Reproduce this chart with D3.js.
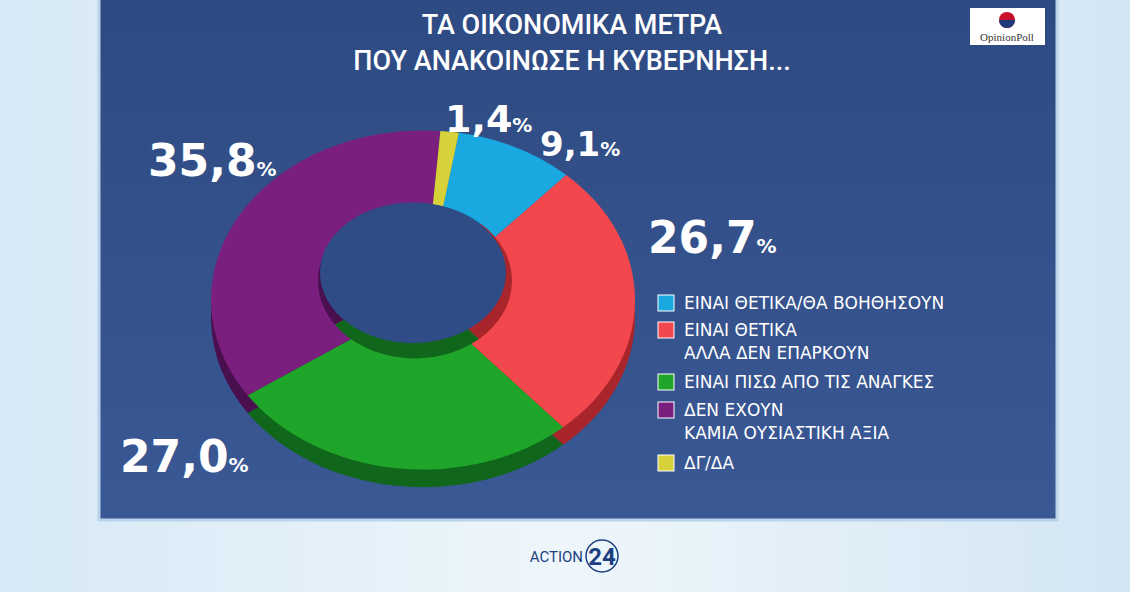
<!DOCTYPE html>
<html><head><meta charset="utf-8">
<script src="https://cdn.jsdelivr.net/npm/d3@7"></script>
<style>body{margin:0;overflow:hidden}svg{display:block}</style>
</head><body><svg id="c" width="1130" height="592"></svg>
<script>
const categories = ["ΕΙΝΑΙ ΘΕΤΙΚΑ/ΘΑ ΒΟΗΘΗΣΟΥΝ", "ΕΙΝΑΙ ΘΕΤΙΚΑ\nΑΛΛΑ ΔΕΝ ΕΠΑΡΚΟΥΝ", "ΕΙΝΑΙ ΠΙΣΩ ΑΠΟ ΤΙΣ ΑΝΑΓΚΕΣ", "ΔΕΝ ΕΧΟΥΝ\nΚΑΜΙΑ ΟΥΣΙΑΣΤΙΚΗ ΑΞΙΑ", "ΔΓ/ΔΑ"];
const values = [9.1, 26.7, 27.0, 35.8, 1.4];
const colors = ["#1aa8e0", "#f2474d", "#1fa62a", "#7a1f7e", "#d8d23a"];
const darkColors = ["#0d6e98", "#a8262b", "#10661a", "#4a0f4e", "#8f8b1e"];
const labelPos = [[540,156],[648,253],[120,472],[148,176],[445,132]];

const svg = d3.select("#c");
const defs = svg.append("defs");
const bg = defs.append("linearGradient").attr("id","bg").attr("x1",0).attr("x2",1);
bg.append("stop").attr("offset",0).attr("stop-color","#d6e9f6");
bg.append("stop").attr("offset",0.5).attr("stop-color","#eef6fb");
bg.append("stop").attr("offset",1).attr("stop-color","#d3e6f4");
svg.append("rect").attr("width",1130).attr("height",592).attr("fill","url(#bg)");

const pg = defs.append("linearGradient").attr("id","pg").attr("x1",0).attr("y1",0).attr("x2",0).attr("y2",1);
pg.append("stop").attr("offset",0).attr("stop-color","#2e4a82");
pg.append("stop").attr("offset",1).attr("stop-color","#3a5894");
svg.append("rect").attr("x",99).attr("y",-4).attr("width",958).attr("height",524)
  .attr("fill","url(#pg)").attr("stroke","#b9d3ea").attr("stroke-width",3);

svg.append("text").attr("x",572).attr("y",34).attr("text-anchor","middle")
  .attr("font-family","Roboto").attr("font-size",27).attr("font-weight",500).attr("fill","#fff")
  .text("ΤΑ ΟΙΚΟΝΟΜΙΚΑ ΜΕΤΡΑ");
svg.append("text").attr("x",572).attr("y",70).attr("text-anchor","middle")
  .attr("font-family","Roboto").attr("font-size",27).attr("font-weight",500).attr("fill","#fff")
  .text("ΠΟΥ ΑΝΑΚΟΙΝΩΣΕ Η ΚΥΒΕΡΝΗΣΗ...");

// logo
svg.append("rect").attr("x",970).attr("y",8).attr("width",75).attr("height",37).attr("fill","#fff");
svg.append("circle").attr("cx",1007).attr("cy",20).attr("r",8).attr("fill","#c8102e");
svg.append("path").attr("d","M999,20 a8,8 0 0,0 16,0z").attr("fill","#1f3a7a");
svg.append("text").attr("x",1007).attr("y",41).attr("text-anchor","middle")
  .attr("font-family","Liberation Serif").attr("font-size",11).attr("fill","#333").text("OpinionPoll");

// donut
const pie = d3.pie().sort(null).value(d=>d).startAngle(0.17).endAngle(0.17+2*Math.PI);
const arcs = pie(values);
const arc = d3.arc().innerRadius(0).outerRadius(212);
const inner = d3.arc().innerRadius(0).outerRadius(97);
const g = svg.append("g").attr("transform","translate(423,300) scale(1,0.8)");
g.append("g").attr("transform","translate(0,22)").selectAll("path").data(arcs).join("path")
  .attr("d",arc).attr("fill",(d,i)=>darkColors[i]);
g.append("g").selectAll("path").data(arcs).join("path")
  .attr("d",arc).attr("fill",(d,i)=>colors[i]);
// hole: inner wall then opening
const hole = g.append("g").attr("transform","translate(-8,-24)");
hole.append("g").selectAll("path").data(arcs).join("path")
  .attr("d",inner).attr("fill",(d,i)=>darkColors[i]);
hole.append("ellipse").attr("cx",-2).attr("cy",-10).attr("rx",93).attr("ry",88).attr("fill","#2f4c86");

// value labels
const lab = svg.append("g").selectAll("text").data(values).join("text")
  .attr("x",(d,i)=>labelPos[i][0]).attr("y",(d,i)=>labelPos[i][1])
  .attr("font-family","DejaVu Sans").attr("font-weight","bold").attr("fill","#fff");
lab.append("tspan").attr("font-size",(d,i)=>i==0?34:i==4?38:44).text(d=>d3.format(".1f")(d).replace(".",","));
lab.append("tspan").attr("font-size",20).text("%");

// legend
const rows = [303,330,382,410,463];
const leg = svg.append("g").selectAll("g").data(categories).join("g")
  .attr("transform",(d,i)=>`translate(658,${rows[i]})`);
leg.append("rect").attr("x",0).attr("y",-8).attr("width",16).attr("height",16)
  .attr("fill",(d,i)=>colors[i]).attr("stroke","#fff").attr("stroke-width",1);
leg.append("text").attr("font-family","DejaVu Sans").attr("font-size",17).attr("font-weight",500).attr("fill","#fff")
  .selectAll("tspan").data(d=>d.split("\n")).join("tspan")
  .attr("x",26).attr("dy",(d,i)=>i==0?6:23).text(d=>d);

// channel logo
svg.append("text").attr("x",583).attr("y",562).attr("text-anchor","end").attr("font-family","Roboto").attr("font-size",15)
  .attr("fill","#1c3f80").text("ACTION");
svg.append("circle").attr("cx",602).attr("cy",556).attr("r",16).attr("fill","none").attr("stroke","#1c3f80").attr("stroke-width",1.5);
svg.append("text").attr("x",602).attr("y",565).attr("text-anchor","middle").attr("font-family","Roboto").attr("font-size",24)
  .attr("font-weight","bold").attr("fill","#1c3f80").text("24");
</script></body></html>
